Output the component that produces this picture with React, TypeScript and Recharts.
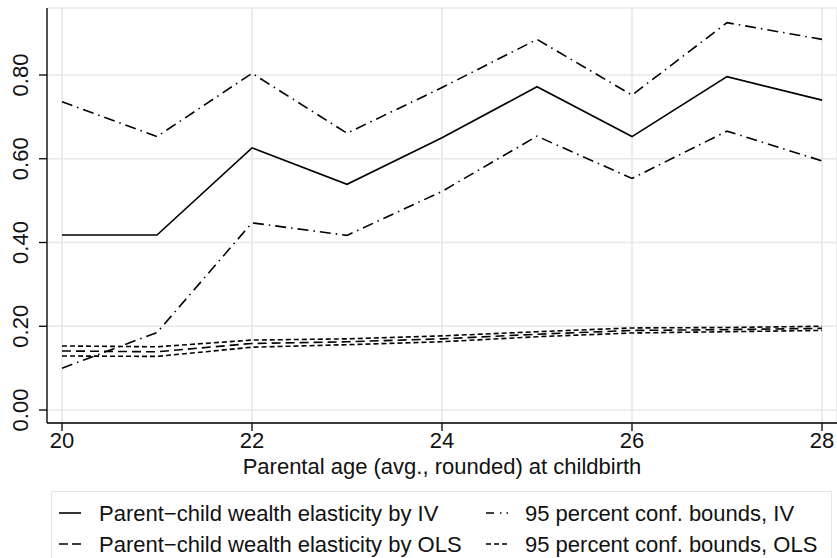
import { LineChart, Line, XAxis, YAxis, CartesianGrid, Legend } from "recharts";

const AGES = [20, 21, 22, 23, 24, 25, 26, 27, 28];
const IV_EST = [0.418, 0.418, 0.626, 0.539, 0.65, 0.772, 0.653, 0.796, 0.74];
const IV_UPPER = [0.736, 0.653, 0.804, 0.661, 0.77, 0.885, 0.752, 0.925, 0.885];
const IV_LOWER = [0.1, 0.185, 0.447, 0.417, 0.522, 0.654, 0.553, 0.666, 0.595];
const OLS_EST = [0.141, 0.139, 0.159, 0.163, 0.17, 0.181, 0.19, 0.192, 0.195];
const OLS_UPPER = [0.153, 0.151, 0.167, 0.17, 0.177, 0.187, 0.196, 0.197, 0.2];
const OLS_LOWER = [0.129, 0.128, 0.15, 0.156, 0.163, 0.175, 0.184, 0.187, 0.19];

const X_TICKS = [20, 22, 24, 26, 28];
const Y_TICKS = [0, 0.2, 0.4, 0.6, 0.8];

const X_TITLE = "Parental age (avg., rounded) at childbirth";
const LEGEND_LABELS = {
  ivEst: "Parent\u2212child wealth elasticity by IV",
  ivBounds: "95 percent conf. bounds, IV",
  olsEst: "Parent\u2212child wealth elasticity by OLS",
  olsBounds: "95 percent conf. bounds, OLS",
};

const FONT = '"Liberation Sans", Arial, Helvetica, sans-serif';
const INK = "#111";
const FS = 22;

const DASH_IV_BOUNDS = "11 5 1.5 5";
const DASH_OLS_EST = "9 5";
const DASH_OLS_BOUNDS = "5 3";

const data = AGES.map((age, i) => ({
  age,
  ivEst: IV_EST[i],
  ivUpper: IV_UPPER[i],
  ivLower: IV_LOWER[i],
  olsEst: OLS_EST[i],
  olsUpper: OLS_UPPER[i],
  olsLower: OLS_LOWER[i],
}));

const LINES = [
  { key: "ivEst", dash: undefined },
  { key: "ivUpper", dash: DASH_IV_BOUNDS },
  { key: "ivLower", dash: DASH_IV_BOUNDS },
  { key: "olsEst", dash: DASH_OLS_EST },
  { key: "olsUpper", dash: DASH_OLS_BOUNDS },
  { key: "olsLower", dash: DASH_OLS_BOUNDS },
];

function YTick(props: any) {
  const { x, y, payload } = props;
  const tx = x - 9;
  return (
    <text
      x={tx}
      y={y}
      transform={`rotate(-90 ${tx} ${y})`}
      textAnchor="middle"
      fontSize={FS}
      fontFamily={FONT}
      fill={INK}
    >
      {Number(payload.value).toFixed(2)}
    </text>
  );
}

function XTitle(props: any) {
  const { viewBox } = props;
  return (
    <text
      x={viewBox.x + viewBox.width / 2}
      y={474}
      textAnchor="middle"
      fontSize={FS}
      fontFamily={FONT}
      fill={INK}
    >
      {X_TITLE}
    </text>
  );
}

function LegendBox() {
  const rows = [
    { y: 22, items: [
      { dash: undefined, label: LEGEND_LABELS.ivEst },
      { dash: "8 6 1.5 5", label: LEGEND_LABELS.ivBounds },
    ] },
    { y: 53, items: [
      { dash: "9 4", label: LEGEND_LABELS.olsEst },
      { dash: "5 3", label: LEGEND_LABELS.olsBounds },
    ] },
  ];
  const cols = [
    { sx: 8, tx: 48 },
    { sx: 435, tx: 474 },
  ];
  return (
    <svg width={781} height={67} style={{ display: "block" }}>
      <rect x={0.5} y={0.5} width={780} height={90} fill="#fff" stroke="#e6e6e6" />
      {rows.map((row, r) =>
        row.items.map((it, c) => (
          <g key={r + "-" + c}>
            <line
              x1={cols[c].sx}
              x2={cols[c].sx + 22}
              y1={row.y}
              y2={row.y}
              stroke="#000"
              strokeWidth={1.6}
              strokeDasharray={it.dash}
            />
            <text
              x={cols[c].tx}
              y={row.y + 8}
              fontSize={FS}
              fontFamily={FONT}
              fill={INK}
            >
              {it.label}
            </text>
          </g>
        ))
      )}
    </svg>
  );
}

export default function App() {
  return (
    <div style={{ position: "absolute", left: 0, top: 0, background: "#fff" }}>
      <LineChart
        width={837}
        height={558}
        data={data}
        margin={{ top: 8, right: 0, left: 0, bottom: 105 }}
        style={{ fontFamily: FONT }}
      >
        <CartesianGrid stroke="#e8e8e8" strokeWidth={1.6} />
        <XAxis
          dataKey="age"
          type="number"
          domain={[19.842, 28.158]}
          ticks={X_TICKS}
          allowDataOverflow
          height={30}
          tickSize={8}
          tickMargin={1}
          tick={{ fontSize: FS, fill: INK, fontFamily: FONT }}
          axisLine={{ stroke: "#000", strokeWidth: 1.3 }}
          tickLine={{ stroke: "#000", strokeWidth: 1.3 }}
          label={<XTitle />}
        />
        <YAxis
          type="number"
          domain={[-0.031, 0.96]}
          ticks={Y_TICKS}
          allowDataOverflow
          width={47}
          tickSize={8}
          tick={<YTick />}
          axisLine={{ stroke: "#000", strokeWidth: 1.3 }}
          tickLine={{ stroke: "#000", strokeWidth: 1.3 }}
        />
        <Legend
          layout="horizontal"
          verticalAlign="middle"
          align="center"
          wrapperStyle={{ left: 51, top: 491, width: 781, height: 67 }}
          content={() => <LegendBox />}
        />
        {LINES.map((l) => (
          <Line
            key={l.key}
            dataKey={l.key}
            type="linear"
            stroke="#000"
            strokeWidth={1.6}
            strokeDasharray={l.dash}
            dot={false}
            activeDot={false}
            isAnimationActive={false}
          />
        ))}
      </LineChart>
    </div>
  );
}
